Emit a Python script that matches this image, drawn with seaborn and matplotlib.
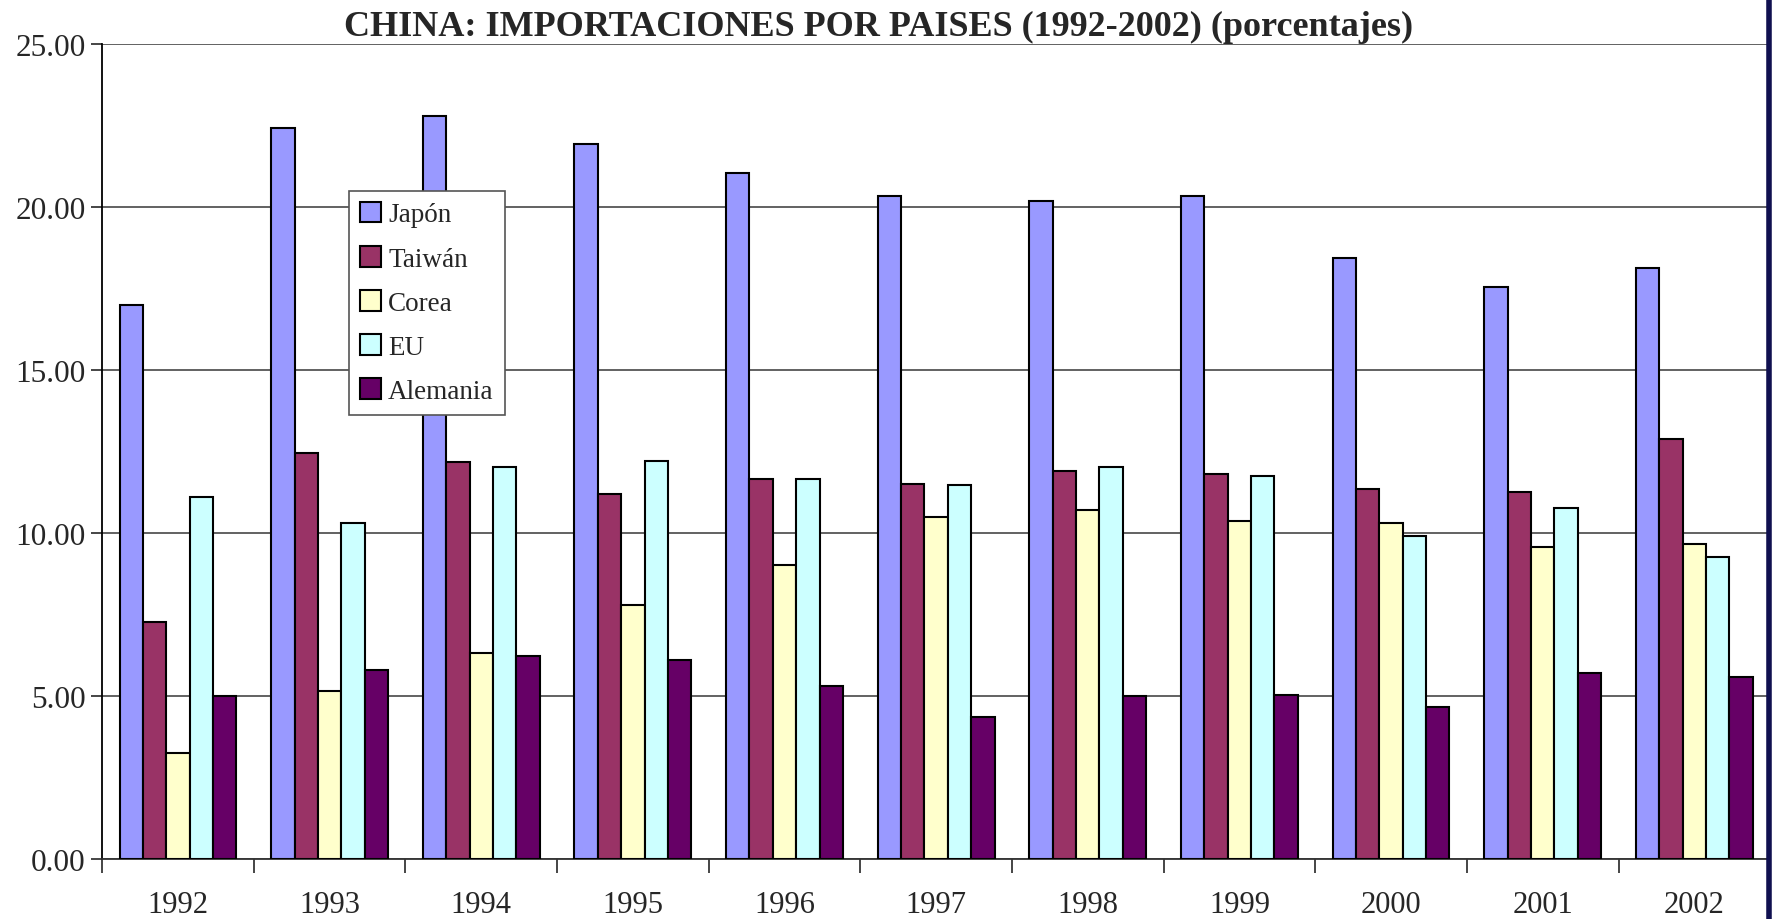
import pandas as pd
import matplotlib
matplotlib.use("Agg")
import matplotlib.pyplot as plt
from matplotlib.lines import Line2D
import seaborn as sns

years = ["1992", "1993", "1994", "1995", "1996", "1997", "1998", "1999", "2000", "2001", "2002"]
paises = ["Japón", "Taiwán", "Corea", "EU", "Alemania"]
japon = [17.0, 22.43, 22.78, 21.95, 21.05, 20.35, 20.18, 20.35, 18.45, 17.55, 18.13]
taiwan = [7.28, 12.45, 12.17, 11.2, 11.65, 11.51, 11.89, 11.82, 11.34, 11.27, 12.9]
corea = [3.26, 5.16, 6.32, 7.8, 9.02, 10.5, 10.71, 10.37, 10.3, 9.57, 9.67]
eu = [11.1, 10.3, 12.03, 12.2, 11.65, 11.48, 12.03, 11.75, 9.92, 10.78, 9.26]
alemania = [5.0, 5.81, 6.22, 6.1, 5.3, 4.37, 5.0, 5.03, 4.65, 5.7, 5.57]
colores = ["#9999FF", "#993366", "#FFFFCC", "#CCFFFF", "#660066"]

df = pd.DataFrame({
    "year": years * 5,
    "pais": [p for p in paises for _ in years],
    "valor": japon + taiwan + corea + eu + alemania,
})

sns.set_style("white")
plt.rcParams["font.family"] = ["Liberation Serif", "DejaVu Serif"]

fig = plt.figure(figsize=(17.72, 9.2), dpi=100)
ax = fig.add_axes([0.0576, 0.0652, 0.9414, 0.8858])

sns.barplot(data=df, x="year", y="valor", hue="pais", palette=colores,
            width=0.77, edgecolor="black", linewidth=1.5, saturation=1,
            ax=ax, zorder=3)

ax.set_ylim(0, 25)
ax.set_xlim(-0.5, 10.5)
ax.set_yticks([0, 5, 10, 15, 20, 25])
ax.set_yticklabels([f"{v:.2f}" for v in [0, 5, 10, 15, 20, 25]], fontsize=22.5)
ax.yaxis.grid(True, color="#555555", linewidth=1.3, zorder=0)
ax.set_axisbelow(True)
ax.tick_params(axis="y", length=8, width=1.2, direction="out", pad=4, left=True)

ax.set_xticks(range(len(years)))
ax.set_xticklabels(years, fontsize=22)
ax.set_xticks([i - 0.5 for i in range(len(years) + 1)], minor=True)
ax.tick_params(axis="x", which="major", length=0, pad=22)
ax.tick_params(axis="x", which="minor", length=10, width=1.2, direction="out", bottom=True)
ax.set_xlabel("")
ax.set_ylabel("")

for s in ["top", "right"]:
    ax.spines[s].set_visible(False)
ax.spines["left"].set_color("black")
ax.spines["left"].set_linewidth(1.3)
ax.spines["bottom"].set_color("#333333")
ax.spines["bottom"].set_linewidth(1.3)

leg = ax.legend(loc="upper left", bbox_to_anchor=(0.148, 0.82), borderaxespad=0,
                fontsize=19.5, frameon=True, fancybox=False, handlelength=0.8,
                handleheight=0.8, handletextpad=0.25, labelspacing=0.68,
                borderpad=0.4)
leg.get_frame().set_edgecolor("#555555")
leg.get_frame().set_linewidth(1.2)
leg.get_frame().set_alpha(1)
for h in leg.legend_handles:
    h.set_edgecolor("black")
    h.set_linewidth(1.5)

fig.text(0.496, 0.970, "CHINA: IMPORTACIONES POR PAISES (1992-2002) (porcentajes)",
         ha="center", va="center", fontsize=26, fontweight="bold")

fig.add_artist(Line2D([0.9985, 0.9985], [0, 1], transform=fig.transFigure,
                      color="#101050", linewidth=4))

fig.savefig("out.png", dpi=100)
